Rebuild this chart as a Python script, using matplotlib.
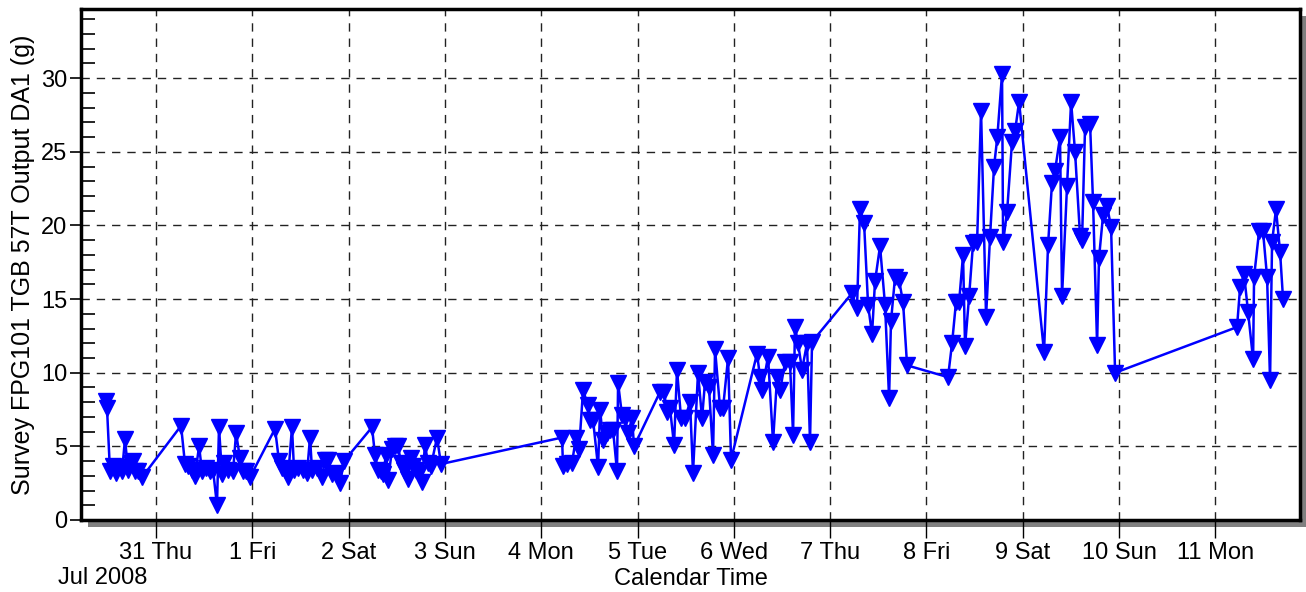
import matplotlib
matplotlib.use("Agg")
import matplotlib.pyplot as plt
import matplotlib.dates as mdates
from matplotlib.patches import Rectangle
from matplotlib.ticker import MultipleLocator, FuncFormatter
import numpy as np
import pandas as pd

plt.rcParams['font.family'] = ['Liberation Sans', 'DejaVu Sans']

# time of each sample, in days after 2008-07-30 00:00
t_days = [
    0.481, 0.491, 0.522, 0.553, 0.585, 0.616, 0.647, 0.678, 0.709, 0.740, 0.761, 0.782, 0.813, 0.855,
    1.260, 1.301, 1.332, 1.374, 1.405, 1.447, 1.478, 1.519, 1.561, 1.592, 1.633, 1.654, 1.685, 1.706,
    1.748, 1.800, 1.831, 1.872, 1.903, 1.935, 1.976,
    2.236, 2.277, 2.308, 2.340, 2.371, 2.412, 2.433, 2.475, 2.526, 2.568, 2.599, 2.620, 2.672, 2.724,
    2.755, 2.786, 2.828, 2.880, 2.911, 2.952,
    3.243, 3.274, 3.305, 3.336, 3.357, 3.388, 3.409, 3.451, 3.479, 3.513, 3.544, 3.575, 3.617, 3.648,
    3.669, 3.700, 3.731, 3.762, 3.793, 3.824, 3.856, 3.918, 3.959,
    5.216, 5.226, 5.268, 5.320, 5.361, 5.393, 5.434, 5.486, 5.507, 5.538, 5.590, 5.611, 5.642, 5.683,
    5.714, 5.746, 5.787, 5.798, 5.839, 5.870, 5.901, 5.943, 5.964,
    6.234, 6.275, 6.306, 6.337, 6.379, 6.410, 6.452, 6.493, 6.545, 6.576, 6.628, 6.670, 6.701, 6.742,
    6.784, 6.805, 6.857, 6.888, 6.940, 6.971,
    7.241, 7.272, 7.293, 7.355, 7.407, 7.449, 7.480, 7.532, 7.583, 7.615, 7.635, 7.667, 7.708, 7.760,
    7.791, 7.812,
    8.227, 8.279, 8.310, 8.352, 8.394, 8.435, 8.466, 8.518, 8.570, 8.612, 8.632, 8.674, 8.715, 8.757,
    8.799,
    9.224, 9.266, 9.307, 9.339, 9.380, 9.401, 9.443, 9.484, 9.526, 9.567, 9.619, 9.660, 9.702, 9.736,
    9.785, 9.796, 9.837, 9.889, 9.920, 9.962,
    10.221, 10.263, 10.304, 10.335, 10.387, 10.408, 10.460, 10.502, 10.543, 10.595, 10.616, 10.647,
    10.699, 10.730, 10.772, 10.792, 10.834, 10.876, 10.917, 10.959,
    12.225, 12.257, 12.298, 12.340, 12.392, 12.402, 12.454, 12.495, 12.537, 12.568, 12.589, 12.630,
    12.672, 12.703,
]

# output DA1 (g)
output_g = [
    8.1, 7.6, 3.3, 3.7, 3.2, 3.6, 3.3, 5.5, 3.4, 3.9, 4.0, 3.3, 3.3, 2.9,
    6.4, 3.8, 3.7, 3.4, 3.0, 5.0, 3.3, 3.5, 3.3, 3.4, 1.0, 6.3, 3.1, 3.9,
    3.4, 3.3, 5.9, 4.2, 3.3, 3.3, 2.9,
    6.2, 4.0, 3.5, 3.4, 2.9, 6.3, 3.4, 3.5, 3.4, 3.2, 5.6, 3.4, 3.5, 2.9,
    4.1, 4.1, 3.1, 3.2, 2.5, 4.0,
    6.3, 4.4, 3.4, 3.3, 3.1, 4.4, 2.7, 4.8, 5.0, 5.0, 3.9, 3.4, 2.8, 4.2,
    3.7, 3.4, 3.2, 2.6, 5.1, 3.9, 3.7, 5.6, 3.8,
    5.6, 3.7, 3.8, 3.9, 5.6, 4.8, 8.8, 7.8, 6.8, 6.8, 3.6, 7.5, 5.4, 5.9,
    6.1, 6.1, 3.3, 9.3, 7.1, 6.9, 5.9, 6.9, 5.0,
    8.7, 8.7, 7.3, 7.6, 5.1, 10.2, 6.9, 6.9, 8.0, 3.2, 10.0, 6.9, 9.4, 9.0,
    4.4, 11.6, 7.6, 7.6, 11.0, 4.1,
    11.3, 9.7, 8.8, 11.1, 5.3, 9.7, 8.8, 10.7, 10.7, 5.8, 13.1, 12.0, 10.2, 12.0,
    5.3, 12.1,
    15.4, 14.4, 21.1, 20.2, 14.6, 12.6, 16.2, 18.6, 14.6, 8.3, 13.5, 16.5, 16.3, 14.8,
    10.5,
    9.7, 12.0, 14.8, 14.8, 18.0, 11.8, 15.2, 18.8, 18.9, 27.8, 13.8, 19.2, 24.0, 26.0,
    30.3, 18.9, 20.9, 25.7, 26.4, 28.4,
    11.4, 18.7, 22.9, 23.7, 26.0, 15.2, 22.7, 28.4, 25.0, 19.3, 19.0, 26.7,
    26.9, 21.6, 11.9, 17.8, 20.7, 21.3, 19.9, 10.0,
    13.1, 15.8, 16.7, 14.1, 10.9, 16.5, 19.6, 19.6, 16.5, 9.5, 18.9, 21.1,
    18.2, 15.0,
]

start = pd.Timestamp("2008-07-30")
times = start + pd.to_timedelta(t_days, unit="D")

fig = plt.figure(figsize=(13.06, 5.92), dpi=100)
W, H = 1306, 592
left, right, bottom, top = 81 / W, 1300 / W, (H - 520) / H, (H - 9) / H
ax = fig.add_axes([left, bottom, right - left, top - bottom])
ax.set_zorder(1)

# drop shadow behind the plot frame
dx, dy = 7 / W, 7 / H
fig.patches.append(Rectangle((left + dx, bottom - dy), right - left, top - bottom,
                             transform=fig.transFigure, facecolor="#808080",
                             edgecolor="none", zorder=0))

ax.plot(times, output_g, color="#0000ff", lw=1.8, marker="v", ms=11,
        markeredgecolor="#0000ff", zorder=3)

ax.set_xlim(start + pd.Timedelta(days=0.221), start + pd.Timedelta(days=12.879))
ax.set_ylim(0, 34.7)

ax.xaxis.set_major_locator(mdates.DayLocator())
ax.xaxis.set_major_formatter(FuncFormatter(
    lambda v, pos: "{} {}".format(mdates.num2date(v).day, mdates.num2date(v).strftime("%a"))))
ax.yaxis.set_major_locator(MultipleLocator(5))
ax.yaxis.set_minor_locator(MultipleLocator(1))

ax.tick_params(axis="x", which="major", direction="out", length=13, width=1,
               labelsize=17, pad=3)
ax.tick_params(axis="y", which="major", direction="out", length=8, width=1.2,
               labelsize=17, pad=2)
ax.tick_params(axis="y", which="minor", direction="in", length=10, width=1.2)

ax.grid(True, which="major", color="#222222", lw=1, ls=(0, (6, 5)))

for side in ["left", "bottom", "top", "right"]:
    ax.spines[side].set_linewidth(2.5)
    ax.spines[side].set_color("black")

ax.set_ylabel("Survey FPG101 TGB 57T Output DA1 (g)", fontsize=18, labelpad=4)
ax.set_xlabel("Calendar Time", fontsize=17, labelpad=3)
fig.text(58 / W, 1 - 578 / H, "Jul 2008", fontsize=17, ha="left", va="center")

fig.savefig("out.png", dpi=100)
